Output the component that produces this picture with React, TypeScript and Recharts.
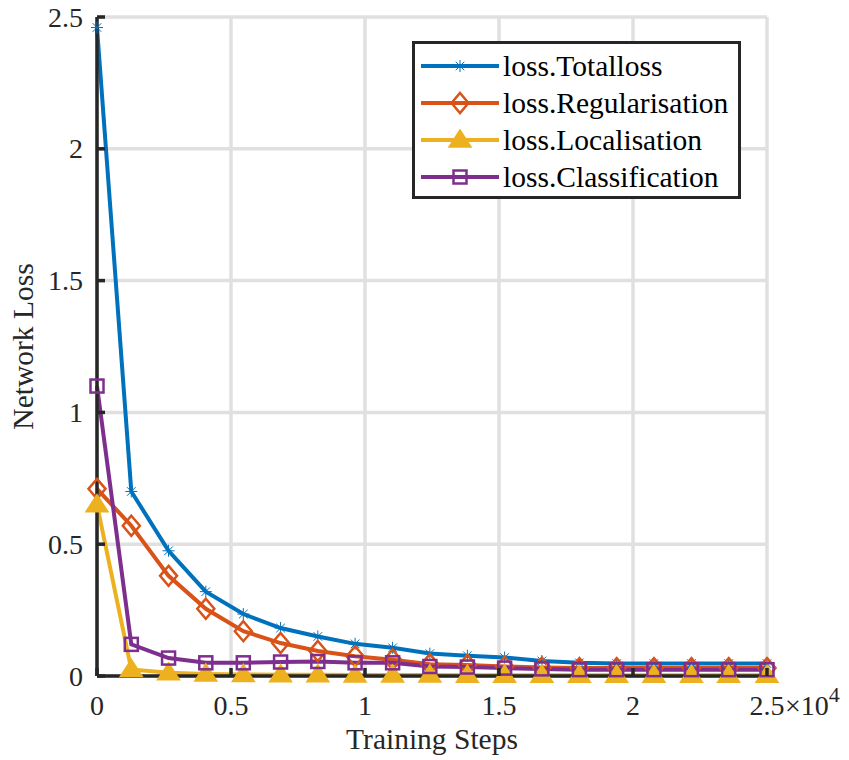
import { CartesianGrid, Line, LineChart, XAxis, YAxis } from 'recharts';
import type { ReactElement } from 'react';

const trainingSteps = [
  0, 1280, 2670, 4060, 5460, 6850, 8240, 9630, 11030, 12420, 13820, 15210, 16600, 18000, 19390,
  20780, 22180, 23570, 25000,
];
const totalLoss = [
  2.46, 0.7, 0.475, 0.32, 0.235, 0.182, 0.15, 0.122, 0.107, 0.085, 0.077, 0.07, 0.057, 0.05,
  0.047, 0.047, 0.047, 0.047, 0.047,
];
const regularisationLoss = [
  0.71, 0.57, 0.38, 0.255, 0.17, 0.125, 0.095, 0.075, 0.062, 0.045, 0.042, 0.036, 0.032, 0.03,
  0.03, 0.03, 0.03, 0.03, 0.03,
];
const localisationLoss = [
  0.65, 0.025, 0.012, 0.008, 0.006, 0.005, 0.005, 0.004, 0.004, 0.004, 0.003, 0.003, 0.003,
  0.003, 0.003, 0.003, 0.003, 0.003, 0.003,
];
const classificationLoss = [
  1.1, 0.12, 0.068, 0.05, 0.05, 0.053, 0.055, 0.05, 0.05, 0.036, 0.034, 0.03, 0.027, 0.024,
  0.024, 0.024, 0.024, 0.024, 0.024,
];
const stepTicks = [0, 5000, 10000, 15000, 20000, 25000];
const lossTicks = [0, 0.5, 1, 1.5, 2, 2.5];

const seriesKeys = ['total', 'regularisation', 'localisation', 'classification'];
const seriesNames = ['loss.Totalloss', 'loss.Regularisation', 'loss.Localisation', 'loss.Classification'];
const seriesColors = ['#0072BD', '#D95319', '#EDB120', '#7E2F8E'];
const seriesMarkers = ['asterisk', 'diamond', 'triangle', 'square'];

const data = trainingSteps.map((step, i) => ({
  step,
  total: totalLoss[i],
  regularisation: regularisationLoss[i],
  localisation: localisationLoss[i],
  classification: classificationLoss[i],
}));

const AXIS = '#262626';
const FONT = 'Liberation Serif';
const TICK_LEN = 8;

function Marker({ kind, cx, cy, color }: { kind: string; cx: number; cy: number; color: string }): ReactElement {
  if (kind === 'asterisk') {
    const r = 6;
    const d = 4.3;
    return (
      <g stroke={color} strokeWidth={1}>
        <line x1={cx - r} y1={cy} x2={cx + r} y2={cy} />
        <line x1={cx} y1={cy - r} x2={cx} y2={cy + r} />
        <line x1={cx - d} y1={cy - d} x2={cx + d} y2={cy + d} />
        <line x1={cx - d} y1={cy + d} x2={cx + d} y2={cy - d} />
      </g>
    );
  }
  if (kind === 'diamond') {
    return (
      <polygon
        points={`${cx},${cy - 10} ${cx + 8.5},${cy} ${cx},${cy + 10} ${cx - 8.5},${cy}`}
        fill="none"
        stroke={color}
        strokeWidth={2.5}
      />
    );
  }
  if (kind === 'triangle') {
    return (
      <polygon
        points={`${cx},${cy - 10} ${cx + 11},${cy + 7} ${cx - 11},${cy + 7}`}
        fill={color}
        stroke={color}
        strokeWidth={1.5}
      />
    );
  }
  return <rect x={cx - 6.5} y={cy - 6.5} width={13} height={13} fill="none" stroke={color} strokeWidth={2.5} />;
}

function BottomTick(props: any): ReactElement {
  const { x, y, payload } = props;
  const v = payload.value as number;
  return (
    <g>
      <line x1={x} y1={y} x2={x} y2={y - TICK_LEN} stroke={AXIS} strokeWidth={3.5} />
      <text x={x} y={y + 39} textAnchor="middle" fontSize={28} fill={AXIS} fontFamily={FONT}>
        {String(v / 10000)}
      </text>
      {v === 25000 && (
        <text x={x + 18} y={y + 39} fontSize={28} fill={AXIS} fontFamily={FONT}>
          ×10
          <tspan dy={-13} fontSize={22}>
            4
          </tspan>
        </text>
      )}
    </g>
  );
}

function TopTick(props: any): ReactElement {
  const { x, y } = props;
  return <line x1={x} y1={y} x2={x} y2={y + TICK_LEN} stroke={AXIS} strokeWidth={3.5} />;
}

function LeftTick(props: any): ReactElement {
  const { x, y, payload } = props;
  return (
    <g>
      <line x1={x} y1={y} x2={x + TICK_LEN} y2={y} stroke={AXIS} strokeWidth={3.5} />
      <text x={x - 14} y={y} dy="0.34em" textAnchor="end" fontSize={28} fill={AXIS} fontFamily={FONT}>
        {String(payload.value)}
      </text>
    </g>
  );
}

function RightTick(props: any): ReactElement {
  const { x, y } = props;
  return <line x1={x} y1={y} x2={x - TICK_LEN} y2={y} stroke={AXIS} strokeWidth={3.5} />;
}

function LegendBox(): ReactElement {
  return (
    <div
      style={{
        position: 'absolute',
        left: 412,
        top: 41,
        width: 323,
        height: 149,
        border: `3px solid ${AXIS}`,
        background: '#fff',
        paddingTop: 3,
        boxSizing: 'content-box',
        fontFamily: FONT,
        fontSize: 29.5,
        color: '#000',
      }}
    >
      {seriesNames.map((name, i) => (
        <div key={name} style={{ display: 'flex', alignItems: 'center', height: 37 }}>
          <svg width={88} height={36} style={{ flex: 'none' }}>
            <line x1={6} y1={18} x2={84} y2={18} stroke={seriesColors[i]} strokeWidth={4} />
            <Marker kind={seriesMarkers[i]} cx={45} cy={18} color={seriesColors[i]} />
          </svg>
          <span style={{ lineHeight: '36px', whiteSpace: 'nowrap' }}>{name}</span>
        </div>
      ))}
    </div>
  );
}

export default function App(): ReactElement {
  return (
    <div style={{ position: 'absolute', left: 0, top: 0, width: 849, height: 760, background: '#fff' }}>
      <LineChart width={849} height={760} data={data} margin={{ top: 17, right: 82, left: 0, bottom: 0 }}>
        <CartesianGrid stroke="#e0e0e0" strokeWidth={3.5} />
        <XAxis
          dataKey="step"
          type="number"
          domain={[0, 25000]}
          ticks={stepTicks}
          height={84}
          tickSize={0}
          tickMargin={0}
          tickLine={false}
          axisLine={{ stroke: AXIS, strokeWidth: 3.5 }}
          tick={<BottomTick />}
          interval={0}
          label={({ viewBox }: any) => (
            <text
              x={viewBox.x + viewBox.width / 2}
              y={viewBox.y + 73}
              textAnchor="middle"
              fontSize={29.5}
              fill={AXIS}
              fontFamily={FONT}
            >
              Training Steps
            </text>
          )}
        />
        <XAxis
          xAxisId="top"
          orientation="top"
          dataKey="step"
          type="number"
          domain={[0, 25000]}
          ticks={stepTicks}
          height={0}
          tickSize={0}
          tickMargin={0}
          tickLine={false}
          axisLine={{ stroke: AXIS, strokeWidth: 3.5 }}
          tick={<TopTick />}
          interval={0}
        />
        <YAxis
          type="number"
          domain={[0, 2.5]}
          ticks={lossTicks}
          width={97}
          tickSize={0}
          tickMargin={0}
          tickLine={false}
          axisLine={{ stroke: AXIS, strokeWidth: 3.5 }}
          tick={<LeftTick />}
          interval={0}
          label={({ viewBox }: any) => (
            <text
              transform={`translate(${viewBox.x + 33}, ${viewBox.y + viewBox.height / 2}) rotate(-90)`}
              textAnchor="middle"
              fontSize={29.5}
              fill={AXIS}
              fontFamily={FONT}
            >
              Network Loss
            </text>
          )}
        />
        <YAxis
          yAxisId="right"
          orientation="right"
          type="number"
          domain={[0, 2.5]}
          ticks={lossTicks}
          width={0}
          tickSize={0}
          tickMargin={0}
          tickLine={false}
          axisLine={{ stroke: AXIS, strokeWidth: 3.5 }}
          tick={<RightTick />}
          interval={0}
        />
        {seriesKeys.map((key, i) => (
          <Line
            key={key}
            type="linear"
            dataKey={key}
            name={seriesNames[i]}
            stroke={seriesColors[i]}
            strokeWidth={4}
            isAnimationActive={false}
            activeDot={false}
            dot={(p: any) => (
              <Marker key={`${key}-${p.index}`} kind={seriesMarkers[i]} cx={p.cx} cy={p.cy} color={seriesColors[i]} />
            )}
          />
        ))}
      </LineChart>
      <LegendBox />
    </div>
  );
}
